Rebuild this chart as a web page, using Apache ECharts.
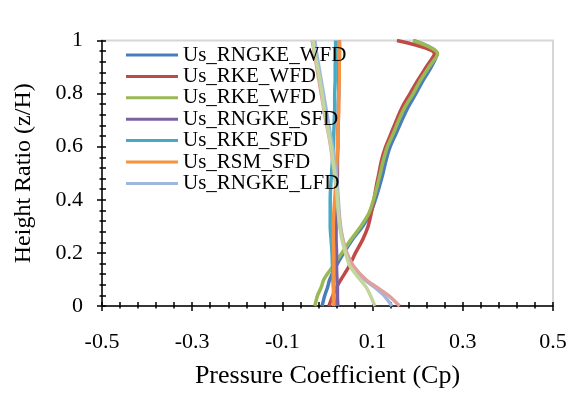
<!DOCTYPE html>
<html>
<head>
<meta charset="utf-8">
<script src="https://cdn.jsdelivr.net/npm/echarts@6/dist/echarts.min.js"></script>
<style>html,body{margin:0;padding:0;background:#fff}#c{width:575px;height:394px}</style>
</head>
<body>
<div id="c"></div>
<script>
// ---- data ----
const heights = [0,0.04,0.07,0.1,0.15,0.2,0.25,0.3,0.35,0.4,0.45,0.5,0.55,0.6,0.65,0.7,0.75,0.8,0.85,0.9,0.95,1.0];
const usRngkeWfd = [-0.012,-0.006,0.0,0.005,0.019,0.036,0.055,0.078,0.095,0.106,0.115,0.123,0.130,0.139,0.152,0.165,0.179,0.196,0.212,0.230,0.243,0.190];
const usRkeWfd   = [0.003,0.012,0.020,0.030,0.048,0.062,0.078,0.090,0.097,0.103,0.108,0.114,0.120,0.129,0.141,0.153,0.166,0.183,0.200,0.219,0.237,0.154];
const usRkeWfd2  = [-0.028,-0.022,-0.014,-0.008,0.012,0.032,0.052,0.074,0.092,0.102,0.110,0.117,0.124,0.133,0.146,0.158,0.172,0.190,0.206,0.225,0.244,0.190];
const usRngkeSfd = [0.023,0.022,0.022,0.021,0.020,0.020,0.019,0.019,0.019,0.020,0.021,0.022,0.022,0.023,0.023,0.024,0.024,0.025,0.025,0.025,0.026,0.026];
const usRkeSfd   = [0.016,0.014,0.013,0.012,0.011,0.010,0.008,0.006,0.006,0.006,0.007,0.009,0.011,0.013,0.014,0.015,0.016,0.016,0.017,0.017,0.018,0.018];
const usRsmSfd   = [0.013,0.013,0.014,0.014,0.014,0.014,0.013,0.013,0.014,0.016,0.018,0.020,0.021,0.022,0.023,0.024,0.025,0.025,0.026,0.026,0.027,0.027];
const usRngkeLfd = [0.143,0.125,0.105,0.082,0.056,0.042,0.034,0.029,0.026,0.024,0.022,0.019,0.015,0.011,0.006,0.001,-0.004,-0.009,-0.014,-0.019,-0.024,-0.028];
const series8    = [0.160,0.135,0.110,0.085,0.058,0.043,0.034,0.028,0.025,0.022,0.019,0.015,0.011,0.007,0.002,-0.004,-0.009,-0.014,-0.019,-0.024,-0.029,-0.034];
const series9    = [0.105,0.095,0.086,0.072,0.050,0.040,0.032,0.027,0.024,0.022,0.020,0.016,0.012,0.008,0.003,-0.003,-0.008,-0.012,-0.017,-0.022,-0.028,-0.032];
const xTickLabels = [-0.5,-0.3,-0.1,0.1,0.3,0.5];
const yTickLabels = [0,0.2,0.4,0.6,0.8,1];
const legendNames = ['Us_RNGKE_WFD','Us_RKE_WFD','Us_RKE_WFD ','Us_RNGKE_SFD','Us_RKE_SFD','Us_RSM_SFD','Us_RNGKE_LFD'];

// ---- build ----
const FONT = '"Liberation Serif","Times New Roman",serif';
const allX = []; for (let i = 0; i <= 25; i++) allX.push(+(-0.5 + i*0.04).toFixed(2));
const allY = []; for (let i = 0; i <= 25; i++) allY.push(+(i*0.04).toFixed(2));
const seriesDefs = [
  [legendNames[0], usRngkeWfd, '#4A7EBB'],
  [legendNames[1], usRkeWfd,   '#BE4B48'],
  [legendNames[2], usRkeWfd2,  '#98B954'],
  [legendNames[3], usRngkeSfd, '#7D60A0'],
  [legendNames[4], usRkeSfd,   '#46AAC5'],
  [legendNames[5], usRsmSfd,   '#F69240'],
  [legendNames[6], usRngkeLfd, '#9DB7E0'],
  ['Series8', series8, '#E0A09E'],
  ['Series9', series9, '#C3D69B']
];
const blk = {color:'#000', width:1.5};
function axisSet(dim, min, max, majors, all, extra) {
  const fmt = v => (Math.abs(v) < 1e-9 ? '0' : String(+v.toFixed(1)));
  const main = Object.assign({
    type:'value', min, max,
    axisLine:{show:true, onZero:false, lineStyle:blk},
    axisTick:{show:true, customValues:majors, length:5, lineStyle:blk},
    axisLabel:{customValues:majors, formatter:fmt, fontFamily:FONT, fontSize:22, color:'#000'},
    splitLine:{show:false}
  }, extra);
  const inner = {type:'value', min, max, axisLine:{show:false, onZero:false},
    axisTick:{show:true, inside:true, customValues:all, length:4, lineStyle:blk},
    axisLabel:{show:false}, splitLine:{show:false}};
  const outer = {type:'value', min, max, axisLine:{show:false, onZero:false},
    axisTick:{show:true, inside:false, customValues:all, length:2.5, lineStyle:blk},
    axisLabel:{show:false}, splitLine:{show:false}};
  if (dim === 'x') { inner.position = outer.position = 'bottom'; }
  else { inner.position = outer.position = 'left'; }
  return [main, inner, outer];
}
const xAxes = axisSet('x', -0.5, 0.5, xTickLabels, allX, {
  position:'bottom',
  name:'Pressure Coefficient (Cp)', nameLocation:'middle', nameGap:57,
  nameTextStyle:{fontFamily:FONT, fontSize:26, color:'#000'}
});
xAxes[0].axisLabel.margin = 25;
const yAxes = axisSet('y', 0, 1, yTickLabels, allY, {
  position:'left',
  name:'Height Ratio (z/H)', nameLocation:'middle', nameGap:66,
  nameTextStyle:{fontFamily:FONT, fontSize:24, color:'#000'}
});
yAxes[0].axisLabel.margin = 19;

const option = {
  animation:false,
  backgroundColor:'#fff',
  grid:{left:102, right:22, top:40.5, bottom:86.5, show:true, borderColor:'#d6d6d6', borderWidth:2, backgroundColor:'transparent'},
  xAxis:xAxes,
  yAxis:yAxes,
  legend:{
    data:legendNames, orient:'vertical', left:126, top:44.5, padding:0, itemGap:0.4,
    itemWidth:52, itemHeight:3, icon:'rect', selectedMode:false,
    textStyle:{fontFamily:FONT, fontSize:21, lineHeight:21, color:'#000'}
  },
  series: seriesDefs.map(([name, vals, color]) => ({
    name, type:'line', xAxisIndex:0, yAxisIndex:0,
    data: vals.map((v, i) => [v, heights[i]]),
    showSymbol:false, symbol:'none', smooth:0.3,
    lineStyle:{color, width:3.5}, itemStyle:{color}
  }))
};
echarts.init(document.getElementById('c')).setOption(option);
</script>
</body>
</html>
